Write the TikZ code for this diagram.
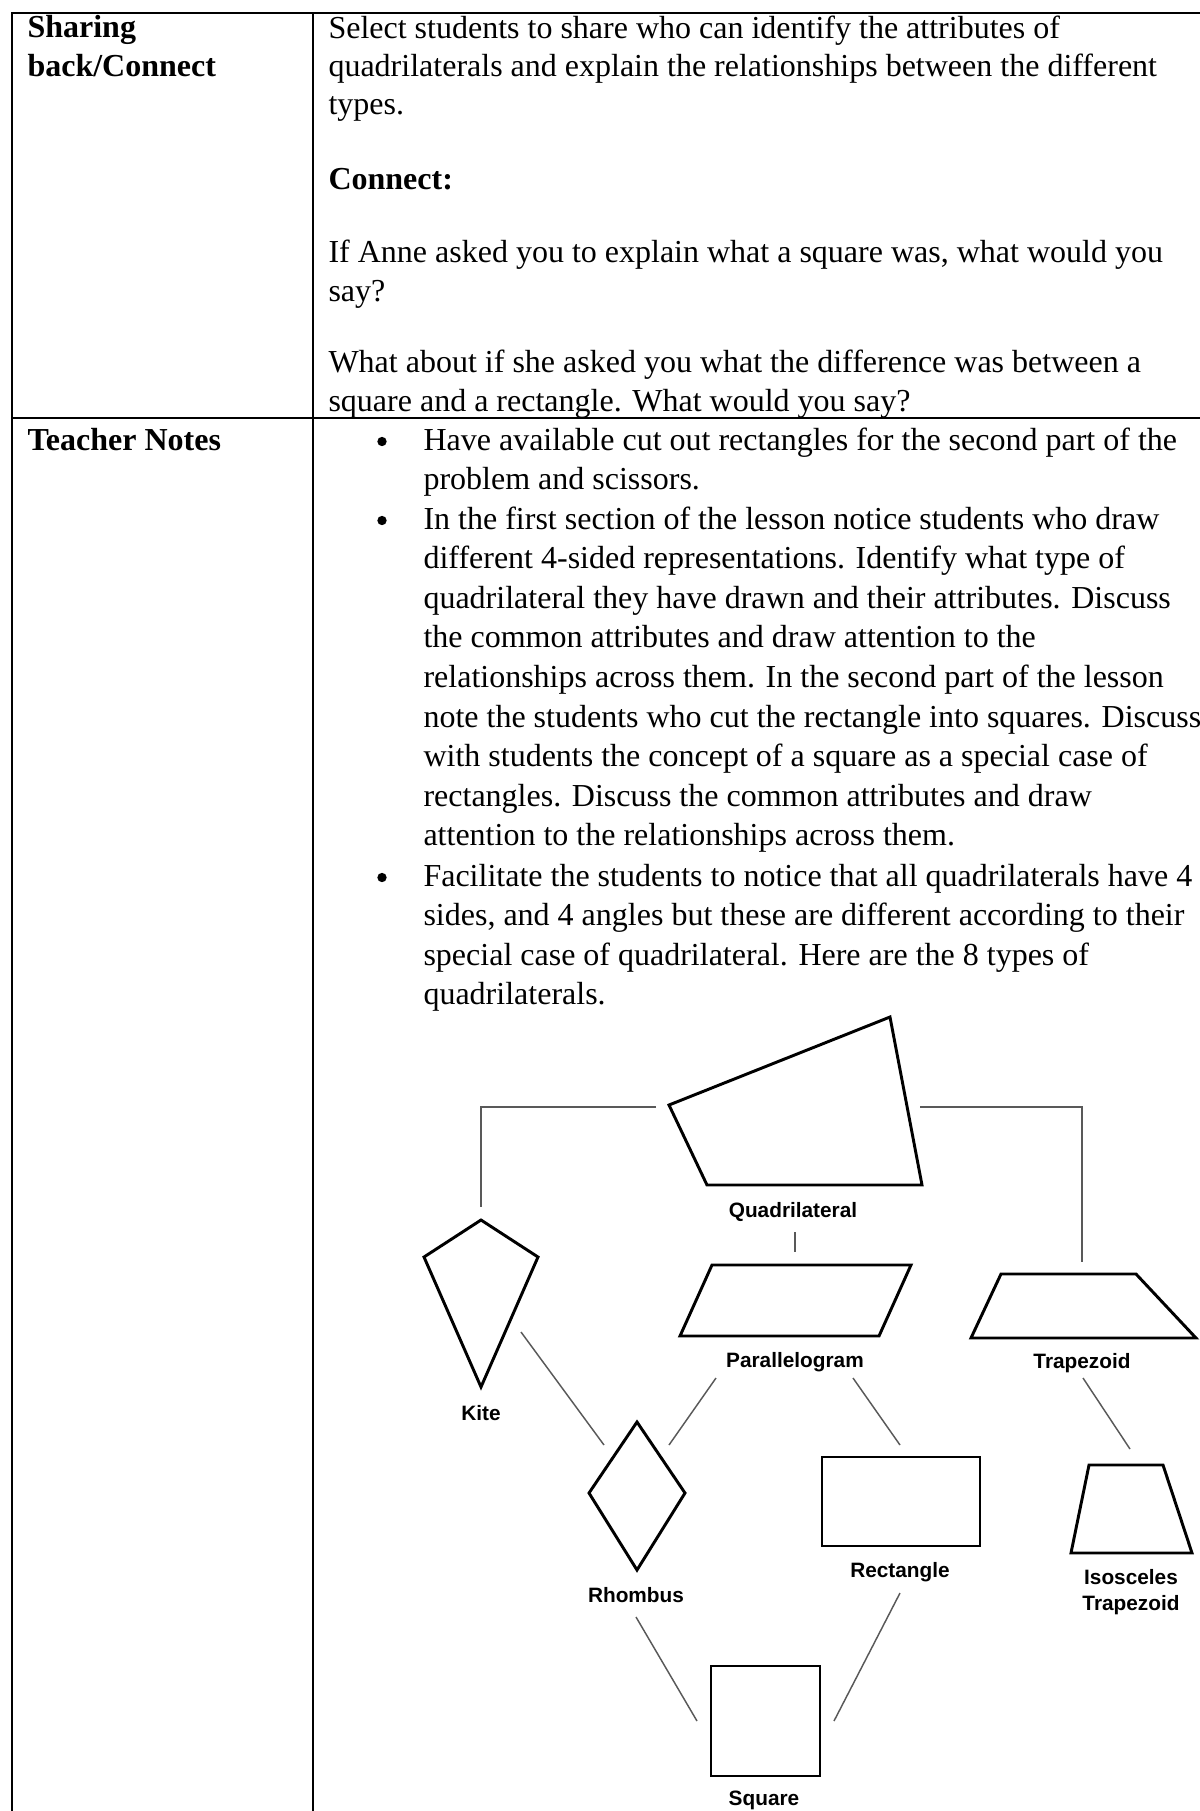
\documentclass[tikz,border=0pt]{standalone}
\usepackage{fontspec}
\setmainfont{Liberation Serif}
\newfontfamily\labelfont{Liberation Sans}

\begin{document}
\begin{tikzpicture}[x=0.375pt, y=-0.375pt,
    rule/.style={line width=0.75pt},
    body/.style={anchor=base west, inner sep=0pt, align=left, font=\fontsize{12}{14.3}\selectfont},
    head/.style={body, font=\fontsize{12}{14.3}\selectfont\bfseries},
    notes/.style={body, font=\fontsize{12}{14.85}\selectfont},
    dot/.style={circle, fill, inner sep=0pt, minimum size=3.5pt},
    quad/.style={draw, line width=1.1pt, line join=miter},
    link/.style={draw=black!65, line width=0.55pt},
    qlbl/.style={font=\labelfont\bfseries\fontsize{7.8}{9.75}\selectfont, align=center, inner sep=0pt}
]
\useasboundingbox (0,0) rectangle (1200,1811);

% table
\draw[rule] (12,1811) -- (12,12.7) -- (1200,12.7);
\draw[rule] (313,12.7) -- (313,1811);
\draw[rule] (12,418) -- (1200,418);

% multi-line nodes sit on the baseline of their last line
\node[head] (share) at (27,76.1) {Sharing\\back/Connect};
\node[head] (tnotes) at (27,450) {Teacher Notes};

\node[body] (select) at (328,114.3) {Select students to share who can identify the attributes of\\quadrilaterals and explain the relationships between the different\\types.};
\node[head] (connect) at (328,189) {Connect:};
\node[body] (anne) at (328,301.1) {If Anne asked you to explain what a square was, what would you\\say?};
\node[body] (diff) at (328,411.1) {What about if she asked you what the difference was between a\\square and a rectangle. What would you say?};

\node[dot] (b1) at (382,441.5) {};
\node[dot] (b2) at (382,520.5) {};
\node[dot] (b3) at (382,877.5) {};
\node[notes] (n1) at (423,489.6) {Have available cut out rectangles for the second part of the\\problem and scissors.};
\node[notes] (n2) at (423,845.8) {In the first section of the lesson notice students who draw\\different 4-sided representations. Identify what type of\\quadrilateral they have drawn and their attributes. Discuss\\the common attributes and draw attention to the\\relationships across them. In the second part of the lesson\\note the students who cut the rectangle into squares. Discuss\\with students the concept of a square as a special case of\\rectangles. Discuss the common attributes and draw\\attention to the relationships across them.};
\node[notes] (n3) at (423,1004.8) {Facilitate the students to notice that all quadrilaterals have 4\\sides, and 4 angles but these are different according to their\\special case of quadrilateral. Here are the 8 types of\\quadrilaterals.};

% shapes
\draw[quad] (890,1017) -- (669,1105) -- (707,1185) -- (922,1185) -- cycle;
\draw[quad] (712,1265) -- (911,1265) -- (879,1336) -- (680,1336) -- cycle;
\draw[quad] (481,1220) -- (538,1257) -- (481,1387) -- (424,1257) -- cycle;
\draw[quad] (1001,1274) -- (1136,1274) -- (1196,1338) -- (971,1338) -- cycle;
\draw[quad] (637,1422) -- (685,1493) -- (637,1570) -- (589,1493) -- cycle;
\draw[quad] (822,1457) rectangle (980,1546);
\draw[quad] (1089,1465) -- (1163,1465) -- (1192,1553) -- (1071,1553) -- cycle;
\draw[quad] (711,1666) rectangle (820,1776);

\node[qlbl] (quadri) at (793,1212) {Quadrilateral};
\node[qlbl] (para) at (795,1362) {Parallelogram};
\node[qlbl] (trap) at (1082,1363) {Trapezoid};
\node[qlbl] (kite) at (481,1413) {Kite};
\node[qlbl] (rhomb) at (636,1595) {Rhombus};
\node[qlbl] (rect) at (900,1572) {Rectangle};
\node[qlbl] (isos) at (1131,1592) {Isosceles\\Trapezoid};
\node[qlbl] (sq) at (764,1800) {Square};

% connector ends
\coordinate (qL) at (656,1107);
\coordinate (kT) at (481,1207);
\coordinate (qR) at (920,1107);
\coordinate (tT) at (1082,1262);
\coordinate (qB) at (795,1232);
\coordinate (pT) at (795,1252);
\coordinate (kR) at (521,1332);
\coordinate (rL) at (604,1445);
\coordinate (pL) at (716,1378);
\coordinate (rR) at (669,1445);
\coordinate (pR) at (853,1378);
\coordinate (reT) at (900,1445);
\coordinate (tB) at (1083,1378);
\coordinate (iT) at (1130,1449);
\coordinate (rB) at (636,1617);
\coordinate (sL) at (697,1721);
\coordinate (reB) at (900,1593);
\coordinate (sR) at (834,1721);

\draw[link] (qL) -| (kT);
\draw[link] (qR) -| (tT);
\draw[link] (qB) -- (pT);
\draw[link] (kR) -- (rL);
\draw[link] (pL) -- (rR);
\draw[link] (pR) -- (reT);
\draw[link] (tB) -- (iT);
\draw[link] (rB) -- (sL);
\draw[link] (reB) -- (sR);
\end{tikzpicture}
\end{document}
